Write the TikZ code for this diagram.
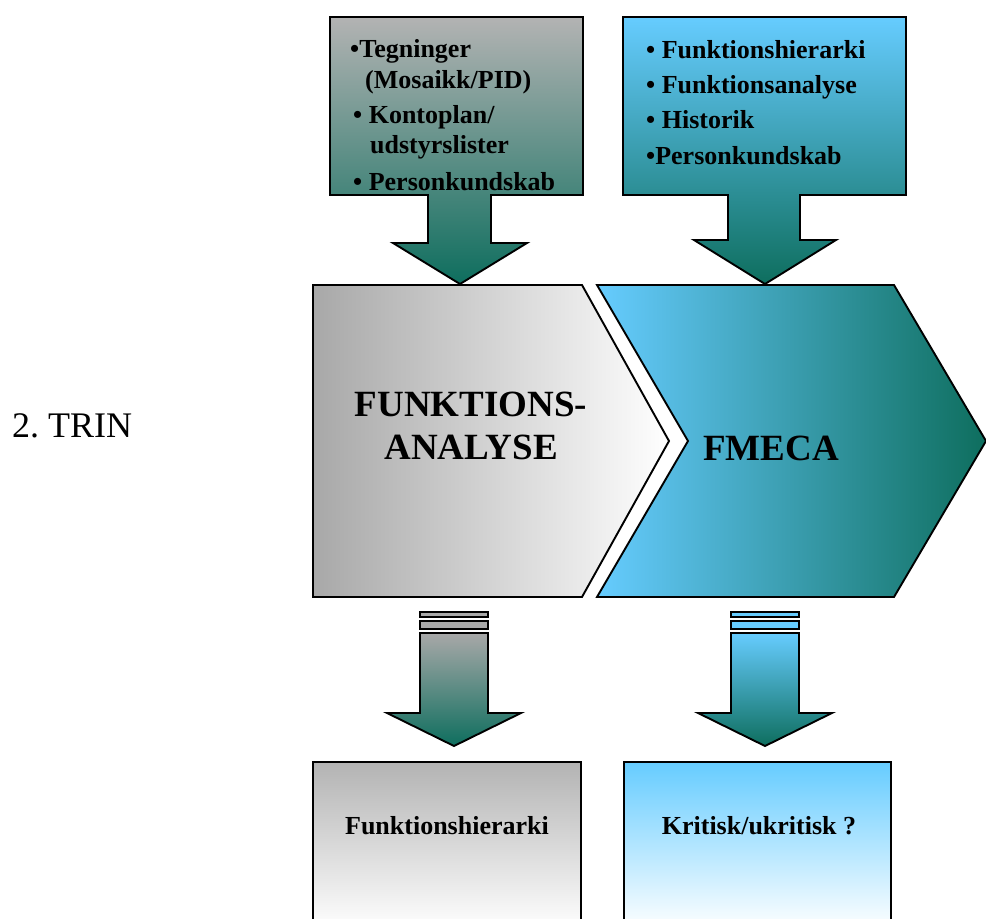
\documentclass[tikz,border=0pt]{standalone}
\usepackage{fontspec}
\setmainfont{Liberation Serif}
\definecolor{cgray}{HTML}{B3B3B3}
\definecolor{cgrayc}{HTML}{A8A8A8}
\definecolor{cblue}{HTML}{66CCFF}
\definecolor{cteal}{HTML}{0E6E5E}
\frenchspacing
\begin{document}
\begin{tikzpicture}[x=1pt,y=-1pt,
  outl/.style={draw=black,line width=1.9pt,line join=miter},
  thin/.style={draw=black,line width=1.6pt},
  lst/.style={anchor=base west,inner sep=0pt,font=\bfseries\fontsize{26}{30}\selectfont},
  big/.style={anchor=base,inner sep=0pt,font=\bfseries\fontsize{37}{42}\selectfont},
  res/.style={anchor=base,inner sep=0pt,font=\bfseries\fontsize{26}{30}\selectfont}]
\useasboundingbox (0,0) rectangle (986,919);
\clip (0,0) rectangle (986,919);

% input boxes with their arrows
\shade[outl,top color=cgray,bottom color=cteal]
  (330,17) -- (583,17) -- (583,195) -- (491,195) -- (491,243) -- (527,243)
  -- (460,284) -- (393,243) -- (428,243) -- (428,195) -- (330,195) -- cycle;
\shade[outl,top color=cblue,bottom color=cteal]
  (623,17) -- (906,17) -- (906,195) -- (800,195) -- (800,240) -- (836,240)
  -- (765,284) -- (694,240) -- (728,240) -- (728,195) -- (623,195) -- cycle;

\node[lst] (a1) at (350,57)  {•Tegninger};
\node[lst] (a2) at (365,88)  {(Mosaikk/PID)};
\node[lst] (a3) at (353,123) {• Kontoplan/};
\node[lst] (a4) at (370,153) {udstyrslister};
\node[lst] (a5) at (353,190) {• Personkundskab};

\node[lst] (b1) at (646,58)  {• Funktionshierarki};
\node[lst] (b2) at (646,93)  {• Funktionsanalyse};
\node[lst] (b3) at (646,128) {• Historik};
\node[lst] (b4) at (646,164) {•Personkundskab};

% process chevrons
\shade[outl,left color=cgrayc,right color=white]
  (313,285) -- (582,285) -- (669,441) -- (582,597) -- (313,597) -- cycle;
\shade[outl,left color=cblue,middle color=cblue!62!cteal,right color=cteal]
  (597,285) -- (894,285) -- (986,441) -- (894,597) -- (597,597) -- (688,441) -- cycle;

\node[big] (fa1) at (471,416) {FUNKTIONS-};
\node[big] (fa2) at (471,459) {ANALYSE};
\node[big] (fm)  at (771,460) {FMECA};

\node[anchor=base west,inner sep=0pt,font=\fontsize{36}{40}\selectfont] (trin) at (12,437) {2. TRIN};

% output arrows
\filldraw[thin,fill=cgrayc] (420,612) rectangle (488,617);
\filldraw[thin,fill=cgrayc] (420,621) rectangle (488,629);
\shade[outl,top color=cgrayc,bottom color=cteal]
  (420,633) -- (488,633) -- (488,713) -- (521,713) -- (454,746) -- (387,713) -- (420,713) -- cycle;

\filldraw[thin,fill=cblue] (731,612) rectangle (799,617);
\filldraw[thin,fill=cblue] (731,621) rectangle (799,629);
\shade[outl,top color=cblue,bottom color=cteal]
  (731,633) -- (799,633) -- (799,713) -- (832,713) -- (765,746) -- (698,713) -- (731,713) -- cycle;

% result boxes
\shade[outl,top color=cgray,middle color=cgray!22!white,bottom color=white]
  (313,762) rectangle (581,930);
\shade[outl,top color=cblue,middle color=cblue!22!white,bottom color=white]
  (624,762) rectangle (891,930);

\node[res] (r1) at (447,834) {Funktionshierarki};
\node[res] (r2) at (759,834) {Kritisk/ukritisk ?};
\end{tikzpicture}
\end{document}
